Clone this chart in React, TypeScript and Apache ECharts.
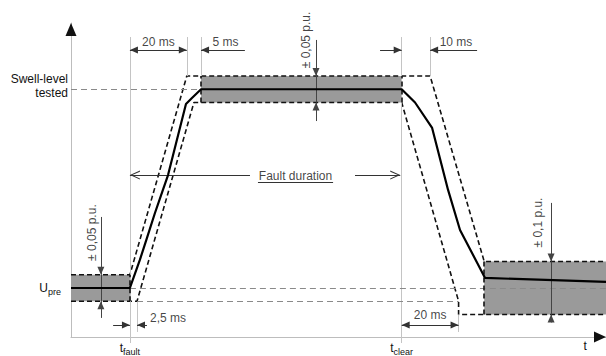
import React, { useEffect, useRef } from 'react';
import * as echarts from 'echarts';

// ---- axes (time in ms relative to fault start, voltage in p.u.) ----
const X_MIN = -20.7;
const X_MAX = 167.3;
const Y_MIN = 0.815;
const Y_MAX = 2.0;
const T_FAULT = 0;
const T_CLEAR = 95.5;
const T_AXIS_LABEL = 160;
const U_PRE = 1.0;
const U_SWELL = 1.75;

// ---- measured voltage response ----
const responseT = [X_MIN, 0, 3.5, 6.0, 8.8, 11.6, 13.4, 19.7, 21.8, 25, 95.5, 100.2, 106.2, 111.8, 116.0, 124.8, X_MAX];
const responseU = [1.0, 1.0, 1.106, 1.189, 1.283, 1.37, 1.426, 1.694, 1.717, 1.75, 1.75, 1.70, 1.604, 1.37, 1.219, 1.038, 1.023];

// ---- tolerance envelope ----
const upperT = [X_MIN, 0, 20, 105.5, 124.5, X_MAX];
const upperU = [1.05, 1.05, 1.80, 1.80, 1.10, 1.10];
const lowerT = [X_MIN, 2.5, 22.5, 95.5, 115.5, 115.5, 124.5, X_MAX];
const lowerU = [0.95, 0.95, 1.70, 1.70, 0.95, 0.90, 0.90, 0.90];

// ---- tolerance bands: [t0, t1, uLow, uHigh] ----
const bands = [
  [X_MIN, 0, 0.95, 1.05],
  [25, 95.5, 1.70, 1.80],
  [124.5, X_MAX, 0.90, 1.10],
];
// band side edges: [t, uLow, uHigh]
const bandEdges = [
  [0, 0.95, 1.05],
  [25, 1.70, 1.80],
  [95.5, 1.70, 1.80],
  [124.5, 0.90, 1.10],
];

// ---- grey extension lines: [t, uFrom, uTo] ----
const extLines = [
  [T_FAULT, Y_MIN, 1.947],
  [20, 1.80, 1.947],
  [25, 1.80, 1.947],
  [T_CLEAR, Y_MIN, 1.947],
  [105.5, 1.80, 1.947],
  [2.5, 0.834, 0.95],
  [115.5, 0.834, 0.90],
];
// ---- grey dashed reference levels: [t0, t1, u] ----
const refLevels = [
  [X_MIN, 25, U_SWELL],
  [0, X_MAX, U_PRE],
  [2.5, 115.5, 0.95],
];

// ---- dimension arrows: [t0, t1, u, arrowAtStart, arrowAtEnd] ----
const dims = [
  [0, 20, 1.898, 1, 1],
  [25, 40.4, 1.898, 1, 0],
  [87.9, 95.5, 1.898, 0, 1],
  [105.5, 122, 1.898, 1, 0],
  [-5.9, 0, 0.86, 0, 1],
  [2.5, 6.0, 0.86, 1, 0],
  [95.5, 115.5, 0.86, 1, 1],
];
// ---- tolerance markers: [t, uTop, uBottom, tipHigh, tipLow] ----
const tolMarks = [
  [65.4, 1.936, 1.63, 1.80, 1.70],
  [-10.2, 1.268, 0.887, 1.05, 0.95],
  [148.0, 1.321, 0.87, 1.10, 0.90],
];
// ---- fault duration arrows: [tFrom, tTo, u] ----
const faultArrows = [
  [42.2, 0, 1.426],
  [79.1, 95, 1.426],
];
const faultUnderline = [45.0, 71.4, 1.40];

// ---- annotation texts ----
const noteText = ['20 ms', '5 ms', '10 ms', '2,5 ms', '20 ms', 'Fault duration', '± 0,05 p.u.', '± 0,05 p.u.', '± 0,1 p.u.'];
const noteT = [10.0, 33.6, 114.6, 7.06, 105.5, 58.2, 61.9, -13.3, 143.4];
const noteU = [1.928, 1.928, 1.928, 0.887, 0.898, 1.423, 1.936, 1.209, 1.247];
const noteRot = [0, 0, 0, 0, 0, 0, 90, 90, 90];

const FONT = '"Liberation Sans", Arial, Helvetica, sans-serif';
const TRI = { symbol: 'triangle', symbolSize: [7, 8], symbolOffset: [0, 4] };
const CHEVRON = { symbol: 'path://M5,0L10,10L8.8,10L5,2.4L1.2,10L0,10Z', symbolSize: [9, 10], symbolOffset: [0, 5] };
const NONE = { symbol: 'none' };

const seg = (x1: number, y1: number, x2: number, y2: number, s1: any = NONE, s2: any = NONE) => [
  { coord: [x1, y1], ...s1 },
  { coord: [x2, y2], ...s2 },
];
const pair = (ts: number[], us: number[]) => ts.map((t, i) => [t, us[i]]);

function buildOption(): any {
  const mlBase = { silent: true, symbol: 'none', label: { show: false }, emphasis: { disabled: true }, animation: false };
  return {
    animation: false,
    grid: { left: 71, right: 0, top: 23, bottom: 19 },
    xAxis: {
      type: 'value',
      min: X_MIN,
      max: X_MAX,
      splitLine: { show: false },
      axisLine: { show: true, onZero: false, lineStyle: { color: '#bdbdbd', width: 1 } },
      axisTick: { show: true, customValues: [T_FAULT, T_CLEAR], length: 6, lineStyle: { color: '#c4c4c4' } },
      axisLabel: {
        show: true,
        customValues: [T_FAULT, T_CLEAR, T_AXIS_LABEL],
        margin: 3,
        formatter: (v: number) =>
          v === T_FAULT ? '{t|t}{s|fault}' : v === T_CLEAR ? '{t|t}{s|clear}' : '{t|t}',
        rich: {
          t: { fontSize: 12, fontFamily: FONT, color: '#111' },
          s: { fontSize: 9, fontFamily: FONT, color: '#111', padding: [7, 0, 0, 0] },
        },
      },
    },
    yAxis: {
      type: 'value',
      min: Y_MIN,
      max: Y_MAX,
      splitLine: { show: false },
      axisLine: { show: true, onZero: false, lineStyle: { color: '#bdbdbd', width: 1 } },
      axisTick: { show: false },
      axisLabel: {
        show: true,
        customValues: [U_PRE, U_SWELL],
        margin: 3,
        fontSize: 12,
        fontFamily: FONT,
        color: '#111',
        lineHeight: 14,
        padding: [0, 0, 6, 0],
        formatter: (v: number) =>
          Math.abs(v - U_PRE) < 1e-6 ? '{u|U}{p|pre}' : 'Swell-level\ntested',
        rich: {
          u: { fontSize: 12, fontFamily: FONT, color: '#111', lineHeight: 14, padding: [6, 0, 0, 0] },
          p: { fontSize: 9, fontFamily: FONT, color: '#111', lineHeight: 11, padding: [14, 7, 0, 0] },
        },
      },
    },
    series: [
      {
        name: 'bands', type: 'line', data: [], z: 1, silent: true,
        markArea: {
          silent: true,
          itemStyle: { color: '#9a9a9a', borderWidth: 0 },
          label: { show: false },
          data: bands.map((b) => [{ coord: [b[0], b[2]] }, { coord: [b[1], b[3]] }]),
        },
      },
      {
        name: 'ext', type: 'line', data: [], z: 2, silent: true,
        markLine: { ...mlBase, lineStyle: { color: '#c4c4c4', width: 1, type: 'solid' }, data: extLines.map((e) => seg(e[0], e[1], e[0], e[2])) },
      },
      {
        name: 'refs', type: 'line', data: [], z: 2, silent: true,
        markLine: { ...mlBase, lineStyle: { color: '#8a8a8a', width: 1, type: [6, 4] }, data: refLevels.map((r) => seg(r[0], r[2], r[1], r[2])) },
      },
      {
        name: 'tol', type: 'line', data: [], z: 3, silent: true,
        markLine: {
          ...mlBase,
          lineStyle: { color: '#444', width: 1, type: 'solid' },
          itemStyle: { color: '#111' },
          data: tolMarks.flatMap((m) => [
            seg(m[0], m[1], m[0], m[3], NONE, TRI),
            seg(m[0], m[3], m[0], m[4]),
            seg(m[0], m[2], m[0], m[4], NONE, TRI),
          ]),
        },
      },
      {
        name: 'upper', type: 'line', data: pair(upperT, upperU), z: 4, silent: true, showSymbol: false,
        lineStyle: { color: '#111', width: 1.6, type: [5, 3] },
      },
      {
        name: 'lower', type: 'line', data: pair(lowerT, lowerU), z: 4, silent: true, showSymbol: false,
        lineStyle: { color: '#111', width: 1.6, type: [5, 3] },
      },
      {
        name: 'edges', type: 'line', data: [], z: 4, silent: true,
        markLine: { ...mlBase, lineStyle: { color: '#111', width: 1.6, type: [5, 3] }, data: bandEdges.map((e) => seg(e[0], e[1], e[0], e[2])) },
      },
      {
        name: 'dims', type: 'line', data: [], z: 4, silent: true,
        markLine: {
          ...mlBase,
          lineStyle: { color: '#333', width: 1, type: 'solid' },
          itemStyle: { color: '#111' },
          data: dims.map((d) => seg(d[0], d[2], d[1], d[2], d[3] ? TRI : NONE, d[4] ? TRI : NONE)),
        },
      },
      {
        name: 'fault', type: 'line', data: [], z: 4, silent: true,
        markLine: {
          ...mlBase,
          lineStyle: { color: '#333', width: 1, type: 'solid' },
          itemStyle: { color: '#333' },
          data: [
            ...faultArrows.map((f) => seg(f[0], f[2], f[1], f[2], NONE, CHEVRON)),
            seg(faultUnderline[0], faultUnderline[2], faultUnderline[1], faultUnderline[2]),
          ],
        },
      },
      {
        name: 'response', type: 'line', data: pair(responseT, responseU), z: 6, silent: true, showSymbol: false,
        lineStyle: { color: '#000', width: 2.2 },
      },
      {
        name: 'notes', type: 'scatter', z: 7, silent: true, symbolSize: 0,
        itemStyle: { color: 'rgba(0,0,0,0)' },
        data: noteText.map((txt, i) => ({
          value: [noteT[i], noteU[i]],
          label: {
            show: true,
            formatter: txt,
            position: txt === '2,5 ms' ? 'right' : 'inside',
            distance: 0,
            rotate: noteRot[i],
            color: '#111',
            fontSize: 12,
            fontFamily: FONT,
          },
        })),
        markPoint: {
          silent: true,
          label: { show: false },
          itemStyle: { color: '#111' },
          data: [
            { coord: [X_MIN, Y_MAX], symbol: 'triangle', symbolSize: [11, 13], symbolOffset: [0, 6.5] },
            { coord: [X_MAX, Y_MIN], symbol: 'triangle', symbolSize: [11, 12], symbolRotate: -90, symbolOffset: [-6, 0] },
          ],
        },
      },
    ],
  };
}

export default function App() {
  const ref = useRef<HTMLDivElement>(null);
  useEffect(() => {
    document.body.style.margin = '0';
    const chart = echarts.init(ref.current!, null, { renderer: 'svg' });
    chart.setOption(buildOption());
    return () => chart.dispose();
  }, []);
  return <div ref={ref} style={{ width: 606, height: 356 }} />;
}
